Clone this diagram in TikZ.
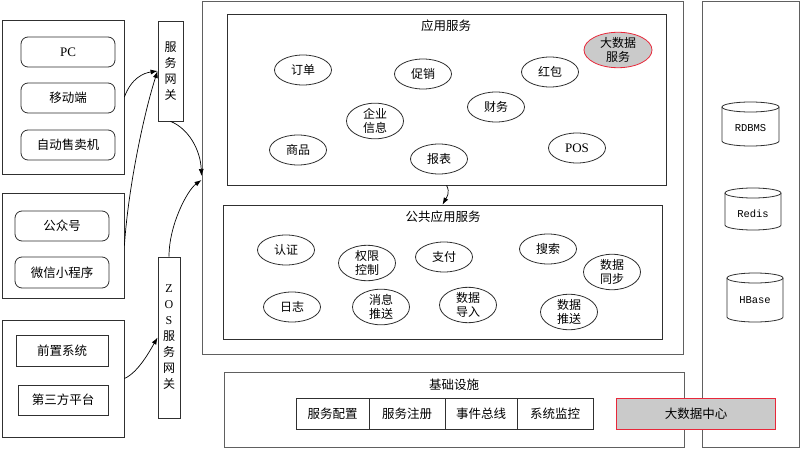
\documentclass[tikz,border=0pt]{standalone}
\usepackage{fontspec}
\setmainfont{Noto Sans CJK SC}
\newfontfamily\lat{Liberation Serif}
\newfontfamily\mono{Liberation Mono}
\usetikzlibrary{arrows.meta,shapes.geometric,calc}
\definecolor{lnc}{HTML}{303030}
\definecolor{outc}{HTML}{606060}
\definecolor{redc}{HTML}{E8283A}
\definecolor{grayf}{HTML}{CACACA}
\newcommand\mycyl[5]{% name x1 x2 top bot
  \pgfmathsetmacro\cx{(#2+#3)/2}\pgfmathsetmacro\rx{(#3-#2)/2}
  \draw[line width=0.8pt,draw=lnc] (\cx,#4+5) ellipse[x radius=\rx, y radius=5];
  \draw[line width=0.8pt,draw=lnc] (#2,#4+5) -- (#2,#5-5) .. controls (#2,#5-2.24) and (\cx-0.552*\rx,#5) .. (\cx,#5) .. controls (\cx+0.552*\rx,#5) and (#3,#5-2.24) .. (#3,#5-5) -- (#3,#4+5);
}
\begin{document}
\begin{tikzpicture}[x=1pt,y=-1pt,
  box/.style={draw=lnc, line width=0.8pt, inner sep=0pt, rectangle},
  obox/.style={draw=outc, line width=1pt, inner sep=0pt, rectangle},
  rbox/.style={box, rounded corners=7pt, font=\fontsize{12.5}{14}\selectfont},
  sbox/.style={box, font=\fontsize{12.5}{14}\selectfont},
  redbox/.style={rectangle, inner sep=0pt, fill=grayf, font=\fontsize{12.5}{14}\selectfont},
  ell/.style={ellipse, draw=lnc, line width=0.8pt, inner sep=0pt, minimum width=57pt, minimum height=30pt, align=center, font=\fontsize{12}{14}\selectfont},
  ttl/.style={inner sep=0pt, font=\fontsize{12.5}{14}\selectfont},
  arr/.style={draw=black, line width=0.7pt, -{Latex[length=7pt,width=5pt]}},
  vtxt/.style={align=center, font=\fontsize{12}{16}\selectfont}]
\useasboundingbox (0,0) rectangle (802,449);
\fill[white] (0,0) rectangle (802,449);

% left groups
\node[box, minimum width=122pt, minimum height=154pt] (b1) at (63,97) {};
\node[rbox, minimum width=94pt, minimum height=30pt] (pc) at (68,52) {\lat\fontsize{13}{14}\selectfont PC};
\node[rbox, minimum width=94pt, minimum height=30pt] (mob) at (68,98) {移动端};
\node[rbox, minimum width=94pt, minimum height=30pt] (vend) at (68,145) {自动售卖机};

\node[box, minimum width=122pt, minimum height=105pt] (b2) at (63,245.5) {};
\node[rbox, minimum width=94pt, minimum height=30pt] (gzh) at (62,226) {公众号};
\node[rbox, minimum width=94pt, minimum height=31pt] (wx) at (62,272.5) {微信小程序};

\node[box, minimum width=122pt, minimum height=117pt] (b3) at (63,378.5) {};
\node[sbox, minimum width=92pt, minimum height=31pt] (qz) at (62,350.5) {前置系统};
\node[sbox, minimum width=90pt, minimum height=30pt] (dsf) at (63,400) {第三方平台};

% gateways
\node[box, minimum width=25pt, minimum height=100pt] (g1) at (170.5,71) {};
\node[vtxt] (g1t) at (170.5,71) {服\\务\\网\\关};
\node[box, minimum width=22pt, minimum height=161pt] (zos) at (169,337.5) {};
\node[vtxt] (zost) at (169,337.5) {{\lat Z}\\{\lat O}\\{\lat S}\\服\\务\\网\\关};

% main box
\node[obox, minimum width=481pt, minimum height=352pt] (main) at (442.5,178) {};
\node[box, minimum width=439pt, minimum height=171pt] (app) at (446.5,99.5) {};
\node[ttl] (appt) at (446,26) {应用服务};
\node[ell] (dd) at (303,70) {订单};
\node[ell] (cx) at (423,74) {促销};
\node[ell] (hb) at (550,72) {红包};
\node[ell, fill=grayf, draw=redc, minimum width=68pt, minimum height=32pt] (dsj) at (618,50) {大数据\\服务};
\node[ell] (cw) at (496,107) {财务};
\node[ell] (qy) at (375,121) {企业\\信息};
\node[ell] (sp) at (298,150) {商品};
\node[ell] (bb) at (439,159) {报表};
\node[ell] (pos) at (577,148) {\lat\fontsize{13}{14}\selectfont POS};

\node[box, minimum width=439pt, minimum height=134pt] (pub) at (442.5,272) {};
\node[ttl] (pubt) at (443,217) {公共应用服务};
\node[ell] (rz) at (286,250) {认证};
\node[ell] (qx) at (367,263) {权限\\控制};
\node[ell] (zf) at (444,257) {支付};
\node[ell] (ss) at (548,249) {搜索};
\node[ell] (tb) at (612,272) {数据\\同步};
\node[ell] (rj) at (292,307) {日志};
\node[ell] (xx) at (381,307) {消息\\推送};
\node[ell] (dr) at (468,305) {数据\\导入};
\node[ell] (ts) at (569,312) {数据\\推送};

% infrastructure
\node[obox, minimum width=460pt, minimum height=75pt] (infra) at (454,409.5) {};
\node[ttl] (infrat) at (454,385) {基础设施};
\node[sbox, minimum width=73pt, minimum height=31pt] (c1) at (332.5,413.5) {服务配置};
\node[sbox, minimum width=76pt, minimum height=31pt] (c2) at (407,413.5) {服务注册};
\node[sbox, minimum width=72pt, minimum height=31pt] (c3) at (481,413.5) {事件总线};
\node[sbox, minimum width=76pt, minimum height=31pt] (c4) at (555,413.5) {系统监控};

% right storage
\node[obox, minimum width=97pt, minimum height=445pt] (store) at (750.5,224.5) {};
\mycyl{rdb}{722}{779}{102}{146}
\node[font=\mono\fontsize{10.5}{12}\selectfont] (rdbt) at (750.5,128) {RDBMS};
\mycyl{red}{725}{781}{188}{230}
\node[font=\mono\fontsize{10.5}{12}\selectfont] (redt) at (753,214) {Redis};
\mycyl{hbs}{727}{783}{273}{322}
\node[font=\mono\fontsize{10.5}{12}\selectfont] (hbst) at (755,300) {HBase};

\node[redbox, minimum width=158pt, minimum height=30pt] (dsjzx) at (696,414) {大数据中心};
\draw[draw=redc, line width=1.3pt] (dsjzx.north west) rectangle (dsjzx.south east);

% connectors
\draw[arr] (b1.east) .. controls ($(b1.east)+(7,-19)$) and ($(g1.west)+(-14,2)$) .. (g1.west);
\draw[arr] (b2.east) .. controls ($(b2.east)+(4,-60)$) and ($(g1.west)+(-13,40)$) .. (g1.west);
\draw[arr] (g1.south) .. controls ($(g1.south)+(18,7)$) and ($(main.west)+(-1,-28)$) .. ($(main.west)+(0,-2)$);
\draw[arr] (zos.north) .. controls ($(zos.north)+(0,-32)$) and ($(main.west)+(-14,12)$) .. ($(main.west)+(0,2)$);
\draw[arr] (b3.east) .. controls ($(b3.east)+(14,-6)$) and ($(zos.west)+(-7,12)$) .. (zos.west);
\draw[arr] (app.south) .. controls ($(app.south)+(4,7)$) and ($(pub.north)+(4,-7)$) .. (pub.north);
\end{tikzpicture}
\end{document}
